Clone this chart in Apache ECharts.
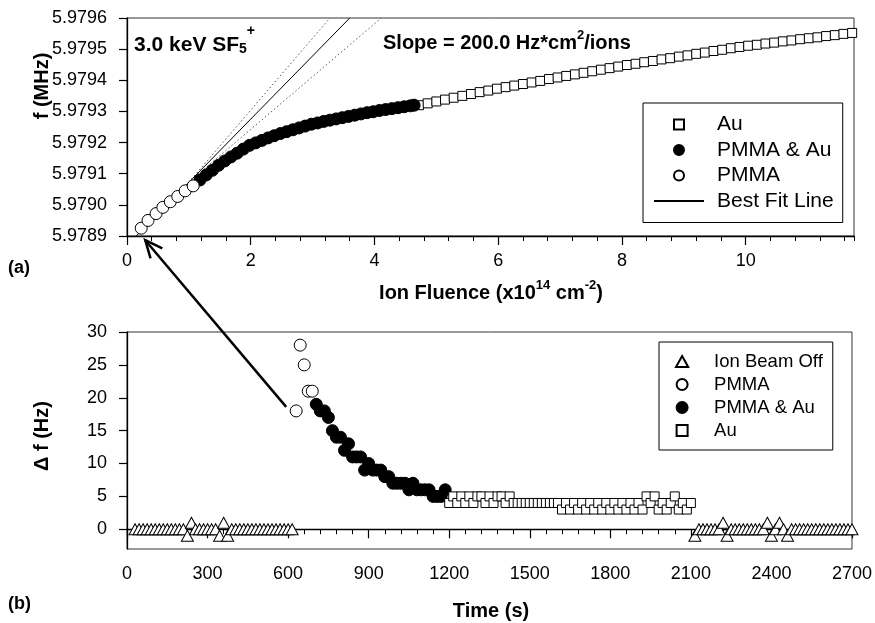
<!DOCTYPE html>
<html><head><meta charset="utf-8">
<script src="https://cdn.jsdelivr.net/npm/echarts@6/dist/echarts.min.js"></script>
<style>html,body{margin:0;padding:0;background:#fff}#c{width:875px;height:623px}</style>
</head><body><div id="c"></div>
<script>
const FONT = '"Liberation Sans", Arial, Helvetica, sans-serif';

// ---------- panel (a): frequency vs ion fluence ----------
const fluenceTicks = [0, 2, 4, 6, 8, 10];
const pmmaFluence = [0.23, 0.34, 0.47, 0.58, 0.70, 0.82, 0.94, 1.07];
const pmmaFreq = [5.978925, 5.978950, 5.978972, 5.978992, 5.979010, 5.979027, 5.979045, 5.979061];
const pmmaAuFluence = [1.18, 1.28, 1.38, 1.48, 1.58, 1.68, 1.78, 1.88, 1.98, 2.08, 2.18, 2.28, 2.38, 2.48, 2.58, 2.68, 2.78, 2.88, 2.98, 3.08, 3.18, 3.28, 3.38, 3.48, 3.58, 3.68, 3.78, 3.88, 3.98, 4.08, 4.18, 4.28, 4.38, 4.48, 4.58, 4.64];
const pmmaAuFreq = [5.979080, 5.979096, 5.979111, 5.979127, 5.979141, 5.979154, 5.979166, 5.979179, 5.979191, 5.979199, 5.979207, 5.979215, 5.979222, 5.979229, 5.979235, 5.979241, 5.979247, 5.979253, 5.979259, 5.979263, 5.979268, 5.979272, 5.979276, 5.979280, 5.979284, 5.979288, 5.979292, 5.979296, 5.979299, 5.979303, 5.979306, 5.979309, 5.979312, 5.979315, 5.979318, 5.979320];
const auFluence = [4.72, 4.86, 5.00, 5.14, 5.28, 5.42, 5.56, 5.70, 5.84, 5.98, 6.12, 6.26, 6.40, 6.54, 6.68, 6.82, 6.96, 7.10, 7.24, 7.38, 7.52, 7.66, 7.80, 7.94, 8.08, 8.22, 8.36, 8.50, 8.64, 8.78, 8.92, 9.06, 9.20, 9.34, 9.48, 9.62, 9.76, 9.90, 10.04, 10.18, 10.32, 10.46, 10.60, 10.74, 10.88, 11.02, 11.16, 11.30, 11.44, 11.58, 11.72];
const auFreq = [5.979320, 5.979326, 5.979332, 5.979338, 5.979344, 5.979350, 5.979356, 5.979362, 5.979367, 5.979373, 5.979378, 5.979383, 5.979388, 5.979393, 5.979398, 5.979404, 5.979409, 5.979414, 5.979419, 5.979424, 5.979429, 5.979434, 5.979439, 5.979444, 5.979449, 5.979453, 5.979458, 5.979462, 5.979467, 5.979471, 5.979476, 5.979480, 5.979485, 5.979489, 5.979494, 5.979498, 5.979503, 5.979507, 5.979511, 5.979514, 5.979518, 5.979521, 5.979525, 5.979528, 5.979532, 5.979535, 5.979538, 5.979542, 5.979545, 5.979549, 5.979552];
const fitFluence = [0.15, 3.60];
const fitFreq = [5.9789, 5.9796];
const upperFluence = [1.00, 3.28];
const upperFreq = [5.979073, 5.9796];
const lowerFluence = [1.00, 4.11];
const lowerFreq = [5.979073, 5.9796];

// ---------- panel (b): delta f vs time ----------
const timeTicks = [0, 300, 600, 900, 1200, 1500, 1800, 2100, 2400, 2700];
const dfTicks = [0, 5, 10, 15, 20, 25, 30];
const offTime = [30, 45, 60, 75, 90, 105, 120, 135, 150, 165, 180, 195, 210, 225, 240, 255, 270, 285, 300, 315, 330, 345, 360, 375, 390, 405, 420, 435, 450, 465, 480, 495, 510, 525, 540, 555, 570, 585, 600, 615,
  2115, 2130, 2145, 2160, 2175, 2190, 2205, 2220, 2235, 2250, 2265, 2280, 2295, 2310, 2325, 2340, 2355, 2370, 2385, 2400, 2415, 2430, 2445, 2460, 2475, 2490, 2505, 2520, 2535, 2550, 2565, 2580, 2595, 2610, 2625, 2640, 2655, 2670, 2685, 2700];
const offDf = [0, 0, 0, 0, 0, 0, 0, 0, 0, 0, 0, 0, 0, -1, 1, 0, 0, 0, 0, 0, 0, -1, 1, -1, 0, 0, 0, 0, 0, 0, 0, 0, 0, 0, 0, 0, 0, 0, 0, 0,
  -1, 0, 0, 0, 0, 0, 0, 1, -1, 0, 0, 0, 0, 0, 0, 0, 0, 0, 1, -1, 0, 1, 0, -1, 0, 0, 0, 0, 0, 0, 0, 0, 0, 0, 0, 0, 0, 0, 0, 0];
const pmmaTime = [630, 645, 660, 675, 690];
const pmmaDf = [18, 28, 25, 21, 21];
const pmmaAuTime = [705, 720, 735, 750, 765, 780, 795, 810, 825, 840, 855, 870, 885, 900, 915, 930, 945, 960, 975, 990, 1005, 1020, 1035, 1050, 1065, 1080, 1095, 1110, 1125, 1140, 1155, 1170, 1185];
const pmmaAuDf = [19, 18, 18, 17, 15, 14, 14, 12, 13, 11, 11, 11, 9, 10, 9, 9, 9, 8, 8, 7, 7, 7, 7, 6, 7, 6, 6, 6, 6, 5, 5, 5, 6];
const auTime = [1200, 1215, 1230, 1245, 1260, 1275, 1290, 1305, 1320, 1335, 1350, 1365, 1380, 1395, 1410, 1425, 1440, 1455, 1470, 1485, 1500, 1515, 1530, 1545, 1560, 1575, 1590, 1605, 1620, 1635, 1650, 1665, 1680, 1695, 1710, 1725, 1740, 1755, 1770, 1785, 1800, 1815, 1830, 1845, 1860, 1875, 1890, 1905, 1920, 1935, 1950, 1965, 1980, 1995, 2010, 2025, 2040, 2055, 2070, 2085, 2100];
const auDf = [4, 5, 4, 5, 4, 5, 4, 5, 5, 4, 5, 4, 5, 5, 4, 5, 4, 4, 4, 4, 4, 4, 4, 4, 4, 4, 4, 4, 3, 4, 3, 4, 3, 4, 3, 4, 3, 4, 3, 4, 3, 4, 3, 4, 3, 4, 3, 4, 3, 5, 4, 5, 3, 4, 3, 4, 5, 3, 4, 3, 4];

const zip = (a, b) => a.map((v, i) => [v, b[i]]);

const hollow = { color: '#fff', borderColor: '#000', borderWidth: 1, opacity: 1 };
const filled = { color: '#000', borderColor: '#000', borderWidth: 1, opacity: 1 };
const axisLineStyle = { lineStyle: { color: '#000', width: 1.3 } };
const labelStyle = { color: '#000', fontSize: 18, fontFamily: FONT };
const SQUARE = 'path://M0,0L10,0L10,10L0,10Z';
const TRIANGLE = 'path://M5,0L10,9L0,9Z';

const chart = echarts.init(document.getElementById('c'), null, { renderer: 'canvas' });

chart.setOption({
  animation: false,
  backgroundColor: '#fff',
  grid: [
    { left: 127, top: 18, width: 727, height: 218, show: true, borderColor: '#333', borderWidth: 1, containLabel: false },
    { left: 127, top: 332, width: 727, height: 217, show: true, borderColor: '#333', borderWidth: 1, containLabel: false }
  ],
  xAxis: [
    { gridIndex: 0, type: 'value', min: 0, max: 11.75, position: 'bottom',
      axisLine: axisLineStyle, splitLine: { show: false },
      axisTick: { customValues: fluenceTicks, length: 9, lineStyle: { color: '#000', width: 1.2 } },
      axisLabel: Object.assign({ customValues: fluenceTicks, margin: 16, formatter: v => String(v) }, labelStyle) },
    { gridIndex: 0, type: 'value', min: 0, max: 11.75, interval: 0.4, position: 'bottom',
      axisLine: { show: false }, splitLine: { show: false },
      axisTick: { length: 5, lineStyle: { color: '#000', width: 1 } }, axisLabel: { show: false } },
    { gridIndex: 1, type: 'value', min: 0, max: 2700, interval: 300, position: 'bottom',
      axisLine: axisLineStyle, splitLine: { show: false },
      axisTick: { length: 9, lineStyle: { color: '#000', width: 1.2 } },
      minorTick: { show: true, splitNumber: 5, length: 5, lineStyle: { color: '#000', width: 1 } },
      axisLabel: Object.assign({ margin: 16, formatter: v => String(v) }, labelStyle) }
  ],
  yAxis: [
    { gridIndex: 0, type: 'value', min: 5.9789, max: 5.9796, interval: 0.0001,
      axisLine: axisLineStyle, splitLine: { show: false },
      axisTick: { length: 8, lineStyle: { color: '#000', width: 1.2 } },
      axisLabel: Object.assign({ margin: 20, formatter: v => v.toFixed(4) }, labelStyle) },
    { gridIndex: 1, type: 'value', min: -3, max: 30,
      axisLine: axisLineStyle, splitLine: { show: false },
      axisTick: { customValues: dfTicks, length: 8, lineStyle: { color: '#000', width: 1.2 } },
      axisLabel: Object.assign({ customValues: dfTicks, margin: 20, formatter: v => String(v) }, labelStyle) }
  ],
  legend: [
    { data: [{ name: 'Au', icon: SQUARE }, { name: 'PMMA & Au', icon: 'circle' }, { name: 'PMMA', icon: 'circle' }, { name: 'Best Fit Line' }],
      orient: 'vertical', left: 643, top: 103,
      padding: [11, 9, 11, 10], itemWidth: 50, itemHeight: 10, itemGap: 4.5,
      borderColor: '#000', borderWidth: 1, backgroundColor: '#fff', selectedMode: false,
      textStyle: { fontSize: 21, lineHeight: 21, fontFamily: FONT, color: '#000', padding: [0, 0, 0, 8] } },
    { data: [{ name: 'Ion Beam Off', icon: TRIANGLE }, { name: 'PMMA', icon: 'circle' }, { name: 'PMMA & Au', icon: 'circle' }, { name: 'Au', icon: SQUARE }],
      orient: 'vertical', left: 659, top: 342,
      padding: [10, 10, 10, 16], itemWidth: 30, itemHeight: 11, itemGap: 4,
      borderColor: '#000', borderWidth: 1, backgroundColor: '#fff', selectedMode: false,
      textStyle: { fontSize: 18.5, lineHeight: 19, fontFamily: FONT, color: '#000', padding: [0, 0, 0, 12] } }
  ],
  series: [
    { name: 'Best Fit Line', type: 'line', xAxisIndex: 0, yAxisIndex: 0, data: zip(fitFluence, fitFreq),
      symbol: 'none', itemStyle: { color: 'rgba(0,0,0,0)', borderWidth: 0 },
      lineStyle: { color: '#000', width: 1 }, z: 1, silent: true },
    { name: 'upper bound', type: 'line', xAxisIndex: 0, yAxisIndex: 0, data: zip(upperFluence, upperFreq),
      symbol: 'none', lineStyle: { color: '#555', width: 1, type: [1.5, 2.5] }, z: 1, silent: true },
    { name: 'lower bound', type: 'line', xAxisIndex: 0, yAxisIndex: 0, data: zip(lowerFluence, lowerFreq),
      symbol: 'none', lineStyle: { color: '#555', width: 1, type: [1.5, 2.5] }, z: 1, silent: true },
    { name: 'Au', type: 'scatter', xAxisIndex: 0, yAxisIndex: 0, data: zip(auFluence, auFreq),
      symbol: 'rect', symbolSize: 9, itemStyle: hollow, z: 3, silent: true },
    { name: 'PMMA & Au', type: 'scatter', xAxisIndex: 0, yAxisIndex: 0, data: zip(pmmaAuFluence, pmmaAuFreq),
      symbol: 'circle', symbolSize: 12, itemStyle: filled, z: 3, silent: true },
    { name: 'PMMA', type: 'scatter', xAxisIndex: 0, yAxisIndex: 0, data: zip(pmmaFluence, pmmaFreq),
      symbol: 'circle', symbolSize: 12, itemStyle: hollow, z: 3, silent: true },

    { name: 'Ion Beam Off', type: 'scatter', xAxisIndex: 2, yAxisIndex: 1, data: zip(offTime, offDf),
      symbol: 'triangle', symbolSize: [12, 11], itemStyle: hollow, z: 3, silent: true },
    { name: 'PMMA', type: 'scatter', xAxisIndex: 2, yAxisIndex: 1, data: zip(pmmaTime, pmmaDf),
      symbol: 'circle', symbolSize: 12, itemStyle: hollow, z: 3, silent: true },
    { name: 'PMMA & Au', type: 'scatter', xAxisIndex: 2, yAxisIndex: 1, data: zip(pmmaAuTime, pmmaAuDf),
      symbol: 'circle', symbolSize: 12, itemStyle: filled, z: 3, silent: true },
    { name: 'Au', type: 'scatter', xAxisIndex: 2, yAxisIndex: 1, data: zip(auTime, auDf),
      symbol: 'rect', symbolSize: 9, itemStyle: hollow, z: 3, silent: true }
  ]
});

const supRich = {
  m: { fontSize: 20, fontWeight: 'bold', fontFamily: FONT, fill: '#000', lineHeight: 24, verticalAlign: 'bottom' },
  sup: { fontSize: 13, fontWeight: 'bold', fontFamily: FONT, fill: '#000', lineHeight: 24, verticalAlign: 'top' },
  big: { fontSize: 21, fontWeight: 'bold', fontFamily: FONT, fill: '#000', lineHeight: 26, verticalAlign: 'bottom' },
  bsup: { fontSize: 14, fontWeight: 'bold', fontFamily: FONT, fill: '#000', lineHeight: 26, verticalAlign: 'top' },
  bsub: { fontSize: 14, fontWeight: 'bold', fontFamily: FONT, fill: '#000', lineHeight: 32, verticalAlign: 'bottom' }
};

// arrow from first PMMA point of (b) to first PMMA point of (a)
const pB = chart.convertToPixel({ seriesIndex: 7 }, [pmmaTime[0], pmmaDf[0]]);
const pA = chart.convertToPixel({ seriesIndex: 5 }, [pmmaFluence[0], pmmaFreq[0]]);
const start = [pB[0] - 10, pB[1] - 4];
const tip = [pA[0] + 4, pA[1] + 12];
const ang = Math.atan2(start[1] - tip[1], start[0] - tip[0]);
const armLen = 19, spread = 24 * Math.PI / 180;
const arm1 = [tip[0] + armLen * Math.cos(ang - spread), tip[1] + armLen * Math.sin(ang - spread)];
const arm2 = [tip[0] + armLen * Math.cos(ang + spread), tip[1] + armLen * Math.sin(ang + spread)];

chart.setOption({
  graphic: [
    { type: 'text', id: 'lblA', x: 8, y: 268, silent: true, style: { text: '(a)', fill: '#000', font: 'bold 18px ' + FONT, verticalAlign: 'middle' } },
    { type: 'text', id: 'lblB', x: 8, y: 604, silent: true, style: { text: '(b)', fill: '#000', font: 'bold 18px ' + FONT, verticalAlign: 'middle' } },
    { type: 'text', id: 'ion', x: 134, y: 40, silent: true, z: 50,
      style: { text: '{big|3.0 keV SF}{bsub|5}{bsup|+}', rich: supRich, verticalAlign: 'middle', align: 'left' } },
    { type: 'text', id: 'slope', x: 383, y: 41, silent: true, z: 50,
      style: { text: '{m|Slope = 200.0 Hz*cm}{sup|2}{m|/ions}', rich: supRich, verticalAlign: 'middle', align: 'left' } },
    { type: 'text', id: 'xtA', x: 491, y: 291, silent: true,
      style: { text: '{m|Ion Fluence (x10}{sup|14}{m| cm}{sup|-2}{m|)}', rich: supRich, align: 'center', verticalAlign: 'middle' } },
    { type: 'text', id: 'xtB', x: 491, y: 611, silent: true,
      style: { text: 'Time (s)', fill: '#000', font: 'bold 20px ' + FONT, align: 'center', verticalAlign: 'middle' } },
    { type: 'text', id: 'ytA', x: 42, y: 86, rotation: Math.PI / 2, silent: true,
      style: { text: 'f (MHz)', fill: '#000', font: 'bold 20px ' + FONT, align: 'center', verticalAlign: 'middle' } },
    { type: 'text', id: 'ytB', x: 42, y: 436, rotation: Math.PI / 2, silent: true,
      style: { text: 'Δ f (Hz)', fill: '#000', font: 'bold 20px ' + FONT, align: 'center', verticalAlign: 'middle' } },
    { type: 'line', id: 'arrowLine', silent: true, z: 60,
      shape: { x1: start[0], y1: start[1], x2: tip[0], y2: tip[1] }, style: { stroke: '#000', lineWidth: 2.5 } },
    { type: 'polyline', id: 'arrowHead', silent: true, z: 60,
      shape: { points: [arm1, tip, arm2] }, style: { stroke: '#000', lineWidth: 2.5, fill: null } }
  ]
});
</script>
</body></html>
